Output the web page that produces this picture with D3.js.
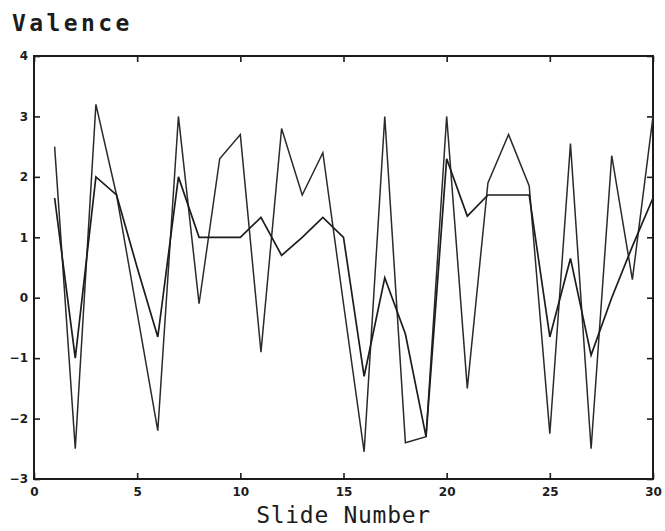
<!DOCTYPE html>
<html>
<head>
<meta charset="utf-8">
<script src="https://cdn.jsdelivr.net/npm/d3@7"></script>
<style>
  body { margin: 0; background: #fff; }
  svg { display: block; }
</style>
</head>
<body>
<div id="chart"></div>
<script>
// slide numbers 1..30
const slides = [1, 2, 3, 4, 5, 6, 7, 8, 9, 10, 11, 12, 13, 14, 15,
  16, 17, 18, 19, 20, 21, 22, 23, 24, 25, 26, 27, 28, 29, 30];

// the spiky series
const valenceA = [2.5, -2.5, 3.2, 1.7, -0.25, -2.2, 3.0, -0.1, 2.3, 2.7,
  -0.9, 2.8, 1.7, 2.4, -0.1, -2.55, 3.0, -2.4, -2.3, 3.0,
  -1.5, 1.9, 2.7, 1.85, -2.25, 2.55, -2.5, 2.35, 0.3, 3.0];

// the smoother series
const valenceB = [1.65, -1.0, 2.0, 1.7, 0.5, -0.65, 2.0, 1.0, 1.0, 1.0,
  1.33, 0.7, 1.0, 1.33, 1.0, -1.3, 0.33, -0.6, -2.3, 2.3,
  1.35, 1.7, 1.7, 1.7, -0.65, 0.65, -0.95, 0.0, 0.85, 1.65];

const xTicks = [0, 5, 10, 15, 20, 25, 30];
const yTicks = [-3, -2, -1, 0, 1, 2, 3, 4];

const W = 665, H = 531;
const MARGIN = { TOP: 56, BOTTOM: 52, LEFT: 34, RIGHT: 12 };
const WIDTH = W - MARGIN.LEFT - MARGIN.RIGHT;
const HEIGHT = H - MARGIN.TOP - MARGIN.BOTTOM;
const INK = "#1c1c1c";

const svg = d3.select("#chart")
  .append("svg")
    .attr("width", W)
    .attr("height", H);

const g = svg.append("g")
  .attr("transform", `translate(${MARGIN.LEFT}, ${MARGIN.TOP})`);

const x = d3.scaleLinear().domain([0, 30]).range([0, WIDTH]);
const y = d3.scaleLinear().domain([-3, 4]).range([HEIGHT, 0]);

// frame
g.append("rect")
  .attr("width", WIDTH)
  .attr("height", HEIGHT)
  .attr("fill", "none")
  .attr("stroke", INK)
  .attr("stroke-width", 2);

const styleAxis = (sel, labels) => {
  sel.select(".domain").remove();
  sel.selectAll(".tick line").attr("stroke", INK).attr("stroke-width", 1.6);
  sel.selectAll(".tick text")
    .attr("fill", INK)
    .style("font-family", "'DejaVu Sans', sans-serif")
    .style("font-weight", "bold")
    .style("font-size", "12px");
  if (!labels) sel.selectAll(".tick text").remove();
};

const fmt = d3.format("d");

g.append("g")
  .attr("transform", `translate(0, ${HEIGHT})`)
  .call(d3.axisBottom(x).tickValues(xTicks).tickFormat(fmt).tickSize(-6).tickPadding(8))
  .call(s => styleAxis(s, true));

g.append("g")
  .call(d3.axisTop(x).tickValues(xTicks).tickSize(-6))
  .call(s => styleAxis(s, false));

g.append("g")
  .call(d3.axisLeft(y).tickValues(yTicks).tickFormat(fmt).tickSize(-6).tickPadding(6))
  .call(s => styleAxis(s, true));

g.append("g")
  .attr("transform", `translate(${WIDTH}, 0)`)
  .call(d3.axisRight(y).tickValues(yTicks).tickSize(-6))
  .call(s => styleAxis(s, false));

const line = vals => d3.line()
  .x((d, i) => x(slides[i]))
  .y(d => y(d))(vals);

g.append("path")
  .attr("d", line(valenceA))
  .attr("fill", "none")
  .attr("stroke", "#2a2a2a")
  .attr("stroke-width", 1.5)
  .attr("stroke-linejoin", "miter");

g.append("path")
  .attr("d", line(valenceB))
  .attr("fill", "none")
  .attr("stroke", INK)
  .attr("stroke-width", 1.7)
  .attr("stroke-linejoin", "miter");

// titles
svg.append("text")
  .attr("x", 12)
  .attr("y", 31)
  .attr("fill", INK)
  .style("font-family", "'DejaVu Sans Mono', monospace")
  .style("font-weight", "bold")
  .style("font-size", "23px")
  .style("letter-spacing", "3.4px")
  .text("Valence");

svg.append("text")
  .attr("x", MARGIN.LEFT + WIDTH / 2)
  .attr("y", 523)
  .attr("text-anchor", "middle")
  .attr("fill", INK)
  .style("font-family", "'DejaVu Sans Mono', monospace")
  .style("font-size", "23px")
  .style("letter-spacing", "0.7px")
  .text("Slide Number");
</script>
</body>
</html>
